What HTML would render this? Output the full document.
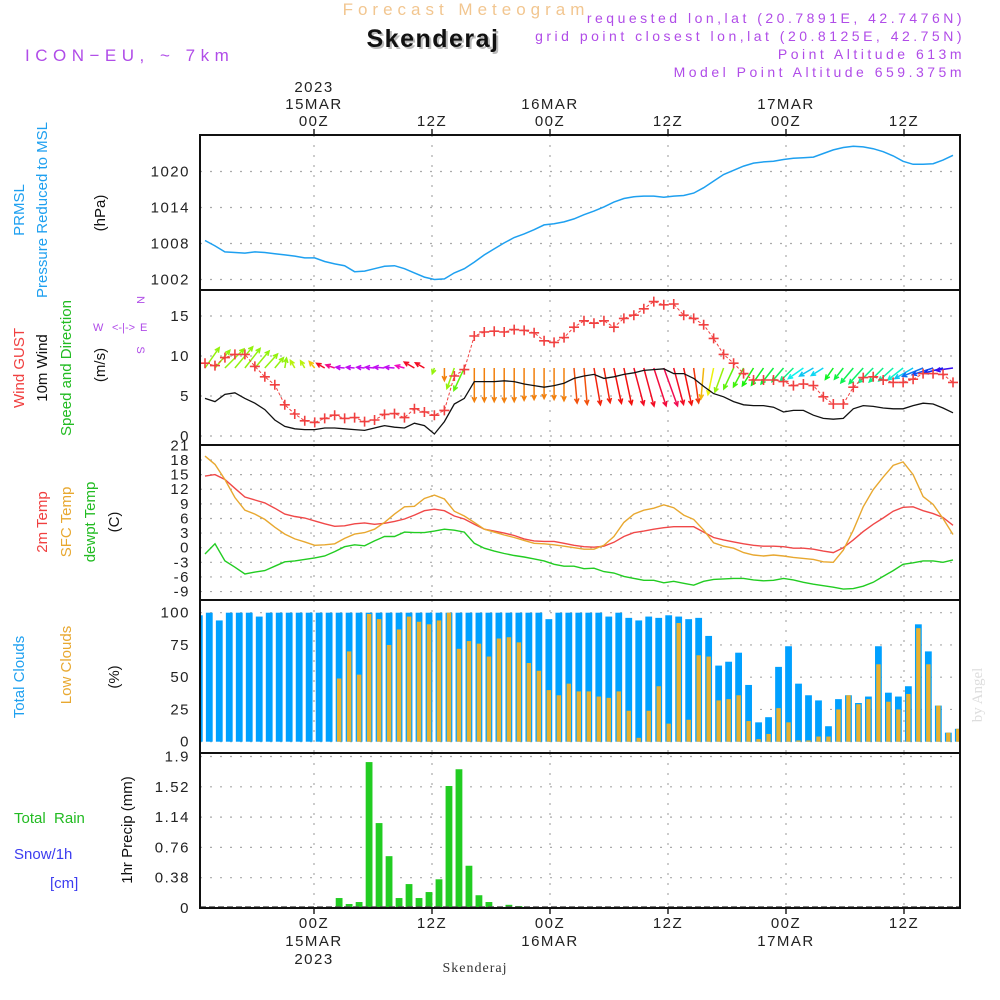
<!DOCTYPE html>
<html><head><meta charset="utf-8"><title>Meteogram Skenderaj</title>
<style>
html,body{margin:0;padding:0;background:#fff;}
svg{display:block;font-family:"Liberation Sans",sans-serif;}
.tk{font-size:15px;fill:#222;letter-spacing:1.5px;}
.hd{font-size:14px;fill:#b04ce8;letter-spacing:3.5px;}
</style></head>
<body>
<svg id="chart" width="1000" height="1000" viewBox="0 0 1000 1000">
  <text x="466" y="15" text-anchor="middle" font-size="17" fill="#f2c690" letter-spacing="5">Forecast Meteogram</text>
  <text x="435" y="49" text-anchor="middle" font-size="25" font-weight="bold" fill="#bbb" letter-spacing="1.5">Skenderaj</text>
  <text x="433" y="47" text-anchor="middle" font-size="25" font-weight="bold" fill="#111" letter-spacing="1.5">Skenderaj</text>
  <text x="25" y="61" font-size="17" fill="#b04ce8" letter-spacing="5.5">ICON−EU, ~ 7km</text>
  <text x="965" y="23" text-anchor="end" class="hd">requested lon,lat (20.7891E, 42.7476N)</text>
  <text x="965" y="41" text-anchor="end" class="hd">grid point closest lon,lat (20.8125E, 42.75N)</text>
  <text x="965" y="59" text-anchor="end" class="hd">Point Altitude 613m</text>
  <text x="965" y="77" text-anchor="end" class="hd">Model Point Altitude 659.375m</text>

  <text x="314" y="92" text-anchor="middle" class="tk">2023</text>

  <text transform="translate(24,210) rotate(-90)" text-anchor="middle" font-size="15" fill="#1ea0f0">PRMSL</text>
  <text transform="translate(47,210) rotate(-90)" text-anchor="middle" font-size="15" fill="#1ea0f0">Pressure Reduced to MSL</text>
  <text transform="translate(105,213) rotate(-90)" text-anchor="middle" font-size="15" fill="#111">(hPa)</text>

  <text transform="translate(24,368) rotate(-90)" text-anchor="middle" font-size="15" fill="#f04040">Wind GUST</text>
  <text transform="translate(47,368) rotate(-90)" text-anchor="middle" font-size="15" fill="#111">10m Wind</text>
  <text transform="translate(71,368) rotate(-90)" text-anchor="middle" font-size="15" fill="#22bb22">Speed and Direction</text>
  <text transform="translate(105,365) rotate(-90)" text-anchor="middle" font-size="15" fill="#111">(m/s)</text>
  <g fill="#b04ce8" font-size="11">
    <text transform="translate(137,300) rotate(90)" text-anchor="middle">N</text>
    <text transform="translate(137,350) rotate(90)" text-anchor="middle">S</text>
    <text x="93" y="331">W</text>
    <text x="112" y="331">&lt;-|-&gt;</text>
    <text x="140" y="331">E</text>
  </g>

  <text transform="translate(47,522) rotate(-90)" text-anchor="middle" font-size="15" fill="#f04040">2m Temp</text>
  <text transform="translate(71,522) rotate(-90)" text-anchor="middle" font-size="15" fill="#e8a830">SFC Temp</text>
  <text transform="translate(95,522) rotate(-90)" text-anchor="middle" font-size="15" fill="#22bb22">dewpt Temp</text>
  <text transform="translate(119,522) rotate(-90)" text-anchor="middle" font-size="15" fill="#111">(C)</text>

  <text transform="translate(24,677) rotate(-90)" text-anchor="middle" font-size="15" fill="#1ea0f0">Total Clouds</text>
  <text transform="translate(71,665) rotate(-90)" text-anchor="middle" font-size="15" fill="#e8a830">Low Clouds</text>
  <text transform="translate(119,677) rotate(-90)" text-anchor="middle" font-size="15" fill="#111">(%)</text>

  <text x="14" y="823" font-size="15" fill="#22bb22" xml:space="preserve">Total  Rain</text>
  <text x="14" y="859" font-size="15" fill="#3c3cf0">Snow/1h</text>
  <text x="50" y="888" font-size="15" fill="#3c3cf0">[cm]</text>
  <text transform="translate(132,830) rotate(-90)" text-anchor="middle" font-size="15" fill="#111">1hr Precip (mm)</text>

  <text x="475" y="972" text-anchor="middle" font-family="Liberation Serif, serif" font-size="14" fill="#333" letter-spacing="1">Skenderaj</text>
  <text x="314" y="964" text-anchor="middle" class="tk">2023</text>
  <text transform="translate(982,695) rotate(-90)" text-anchor="middle" font-family="Liberation Serif, serif" font-size="15" fill="#ddd">by Angel</text>
  <g id="plot"></g>
</svg>
<script>
// ---- data ----
const timeTicks = [0, 12, 24, 36, 48, 60];
const timeTickLabels = ["00Z", "12Z", "00Z", "12Z", "00Z", "12Z"];
const dateLabels = ["15MAR", "", "16MAR", "", "17MAR", ""];
const pressureTicks = [1002, 1008, 1014, 1020];
const windTicks = [0, 5, 10, 15];
const tempTicks = [-9, -6, -3, 0, 3, 6, 9, 12, 15, 18, 21];
const cloudTicks = [0, 25, 50, 75, 100];
const precipTicks = [0, 0.38, 0.76, 1.14, 1.52, 1.9];

const pressure = [1008.5,1007.6,1006.6,1006.5,1006.4,1006.6,1006.5,1006.3,1006.1,1005.9,1005.6,1005.6,1005.0,1004.6,1004.3,1003.3,1003.4,1003.8,1004.2,1004.3,1003.8,1003.1,1002.4,1002.0,1002.1,1003.1,1003.8,1004.9,1006.1,1007.1,1008.1,1009.0,1009.6,1010.3,1011.1,1011.3,1011.6,1012.1,1012.8,1013.4,1014.1,1014.9,1015.5,1015.8,1015.9,1015.9,1015.7,1015.9,1016.0,1016.4,1017.3,1018.4,1019.5,1020.2,1020.9,1021.4,1021.6,1021.7,1022.0,1022.2,1022.3,1022.4,1023.0,1023.6,1024.0,1024.2,1024.1,1023.8,1023.3,1022.6,1021.7,1021.2,1021.2,1021.3,1021.9,1022.7];
const windGust = [9.1,8.8,9.8,10.2,10.2,8.7,7.4,6.4,3.9,2.75,1.9,1.7,2.2,2.6,2.2,2.3,1.8,2.0,2.7,2.8,2.3,3.4,3.0,2.6,3.2,7.5,8.3,12.5,13.0,13.1,13.0,13.3,13.2,12.9,11.9,11.7,12.3,13.6,14.4,14.1,14.4,13.6,14.7,15.1,15.9,16.8,16.4,16.5,15.1,14.7,13.9,12.2,10.2,9.1,7.8,7.0,7.0,7.0,6.8,6.3,6.5,6.3,4.9,4.0,4.0,6.1,7.3,7.4,7.0,6.7,6.7,7.1,7.8,7.8,7.7,6.7];
const windSpeed = [4.7,4.3,5.2,5.4,4.7,4.1,3.3,2.0,1.2,0.9,0.8,0.8,1.0,1.0,0.9,0.8,0.7,1.0,1.3,1.1,1.0,1.6,1.3,0.25,1.8,4.0,4.7,6.8,6.8,6.8,6.9,6.8,6.5,6.3,6.1,6.3,6.6,7.2,7.5,7.7,7.2,7.4,7.7,7.9,8.2,8.3,8.4,7.8,7.8,7.2,6.2,5.3,4.9,4.3,3.9,3.8,3.8,3.6,3.0,3.2,3.2,2.6,2.2,2.1,2.2,3.4,3.8,3.7,3.5,3.4,3.4,3.8,4.1,4.0,3.5,2.9];
const windDir = [35,40,45,40,38,40,42,40,10,330,330,320,300,290,275,275,275,275,275,275,285,300,300,200,180,200,205,180,180,180,180,180,180,180,180,180,180,175,175,170,170,168,168,165,165,162,160,165,168,172,185,192,200,205,208,212,215,218,220,225,235,240,238,215,218,220,222,225,225,228,232,240,248,252,255,262];
const temp2m = [14.7,15.0,14.0,12.2,10.4,9.8,9.2,8.1,6.9,6.4,6.1,5.5,4.9,4.4,4.5,4.9,5.1,4.8,5.0,5.4,5.9,6.7,7.6,7.9,7.6,6.5,5.9,4.8,3.8,3.4,3.0,2.5,1.8,1.4,1.3,1.3,0.9,0.5,0.2,0.1,0.3,1.1,2.3,3.1,3.4,3.8,4.1,4.3,4.3,4.3,3.2,2.1,1.6,1.2,0.8,0.5,0.3,0.3,0.2,-0.1,-0.1,-0.3,-0.7,-1.0,0.0,1.6,3.3,4.8,6.1,7.5,8.3,8.4,7.6,7.0,6.2,4.6];
const tempSfc = [18.8,17.1,14.0,10.3,7.7,6.9,5.8,4.2,2.8,1.8,1.2,0.5,0.6,0.8,1.9,2.8,3.1,3.8,5.2,6.9,8.4,8.5,10.1,10.8,10.0,7.5,6.5,5.2,3.8,3.2,2.6,2.1,1.5,0.9,0.8,0.6,0.3,0.0,-0.3,-0.3,0.5,2.3,5.2,6.9,7.7,8.1,8.8,8.2,6.7,5.8,3.6,1.0,0.3,-0.1,-1.0,-1.5,-1.7,-1.5,-1.7,-2.0,-2.2,-2.4,-2.9,-3.0,-0.5,3.6,8.4,11.9,14.5,16.9,17.6,15.0,10.5,8.9,6.0,2.7];
const tempDew = [-1.3,0.8,-2.7,-4.0,-5.4,-5.0,-4.7,-3.8,-2.9,-2.7,-2.4,-2.1,-1.7,-0.8,0.2,0.6,0.4,1.4,2.3,2.3,3.2,3.1,3.1,3.4,3.8,3.6,3.2,0.9,-0.1,-0.7,-1.2,-1.6,-1.9,-2.3,-2.7,-3.4,-3.8,-3.8,-4.3,-4.2,-4.9,-5.2,-5.9,-6.3,-6.7,-6.7,-7.2,-6.9,-7.3,-7.7,-6.9,-6.5,-6.4,-6.3,-6.3,-6.6,-6.8,-6.7,-6.3,-6.6,-7.1,-7.5,-7.8,-8.1,-8.5,-8.4,-7.9,-7.1,-5.9,-4.7,-3.4,-3.1,-2.7,-2.7,-3.0,-2.5];
const totalClouds = [98,100,94,100,100,100,97,100,100,100,100,100,100,100,100,100,100,100,100,100,100,100,100,100,100,100,100,100,100,100,100,100,100,100,100,95,100,100,100,
  100,100,97,100,96,94,97,96,98,97,95,96,82,59,62,69,44,15,19,58,74,45,36,32,12,33,36,30,35,74,38,35,43,91,70,28,7,10];
const lowClouds = [0,0,0,0,0,0,0,0,0,0,0,0,0,0,49,70,52,99,95,75,87,97,93,91,94,100,72,78,76,66,80,81,77,61,55,40,36,45,39,
  39,35,34,39,24,3,24,43,14,92,17,67,66,32,33,36,16,2,6,26,15,1,1,4,4,25,36,29,33,60,31,25,37,88,60,28,7,10];
const precip = [0,0,0,0,0,0,0,0,0,0,0,0,0,0,0.125,0.05,0.075,1.83,1.065,0.65,0.125,0.30,0.125,0.20,0.36,1.53,1.74,0.53,0.16,0.075,0.012,0.04,0.025,0.012,0,0,0,0,0,0,0,0,0,0,0,0,0,0,0,0,0,0,0,0,0,0,0,0,0,0,0,0,0,0,0,0,0,0,0,0,0,0,0,0,0,0,0];

// ---- layout & scales ----
const NS = "http://www.w3.org/2000/svg";
const X0 = 200, X1 = 960;
const panels = [
  {name:"pressure", top:135, bot:290},
  {name:"wind", top:290, bot:445},
  {name:"temperature", top:445, bot:600},
  {name:"clouds", top:600, bot:753},
  {name:"precip", top:753, bot:908}
];
function lin(d0, d1, r0, r1){ return v => r0 + (v - d0) * (r1 - r0) / (d1 - d0); }
const xTime = lin(0, 12, 314, 432);
const xLine = i => 205 + i * (748 / 75);
const xBar = k => 199.3 + k * 9.987;
const yP = lin(1002, 1020, 279.5, 171.5);
const yW = lin(0, 15, 436, 316);
const yT = lin(0, 18, 547.7, 460);
const yC = lin(0, 100, 741.7, 612.7);
const yR = lin(0, 1.9, 908, 756.5);
const plot = document.getElementById("plot");

function mk(tag, attrs, parent){
  const e = document.createElementNS(NS, tag);
  for (const k in attrs) e.setAttribute(k, attrs[k]);
  (parent || plot).appendChild(e);
  return e;
}
const defs = mk("defs", {});
const cp = mk("clipPath", {id:"plotclip"}, defs);
mk("rect", {x:X0, y:135, width:X1 - X0, height:773}, cp);

const grid = mk("g", {stroke:"#aaa", "stroke-width":"1.2", "stroke-dasharray":"2 8", fill:"none"});


panels.forEach(p => {
  timeTicks.forEach(t => {
    const l = mk("line", {x1:xTime(t), x2:xTime(t), y1:p.top, y2:p.bot}, grid);
    
    
  });
});
function hgrid(ticks, ys, fmt, pname){
  ticks.forEach(v => {
    const y = ys(v);
    const l = mk("line", {x1:X0, x2:X1, y1:y, y2:y}, grid);
    
    
    const t = mk("text", {x:190, y:y + 5, "text-anchor":"end", class:"tk"});
    t.textContent = fmt(v);
    
    
  });
}
hgrid(pressureTicks, yP, v => String(v), "pressure");
hgrid(windTicks, yW, v => String(v), "wind");
hgrid(tempTicks, yT, v => String(v), "temperature");
hgrid(cloudTicks, yC, v => String(v), "clouds");
hgrid(precipTicks, yR, v => String(v), "precip");

timeTicks.forEach((t, i) => {
  const x = xTime(t);
  const a = mk("text", {x:x, y:126, "text-anchor":"middle", class:"tk"});
  a.textContent = timeTickLabels[i];
  
  
  if (dateLabels[i]) {
    const d = mk("text", {x:x, y:109, "text-anchor":"middle", class:"tk"});
    d.textContent = dateLabels[i];
    
    
    const d2 = mk("text", {x:x, y:946, "text-anchor":"middle", class:"tk"});
    d2.textContent = dateLabels[i];
    
    
  }
  const b = mk("text", {x:x, y:928, "text-anchor":"middle", class:"tk"});
  b.textContent = timeTickLabels[i];
  
  
  mk("line", {x1:x, x2:x, y1:129, y2:135, stroke:"#222", "stroke-width":1.5});
  mk("line", {x1:x, x2:x, y1:908, y2:914, stroke:"#222", "stroke-width":1.5});
});

const g = mk("g", {"clip-path":"url(#plotclip)"});

function path(vals, xs, ys){ return vals.map((v, i) => (i ? "L" : "M") + xs(i).toFixed(1) + " " + ys(v).toFixed(1)).join(""); }
const pl = mk("path", {d:path(pressure, xLine, yP), fill:"none", stroke:"#1ea0f0", "stroke-width":1.5}, g);



function dirColor(d){
  let h;
  if (d <= 120) h = 85;
  else if (d < 180) h = 30 - (180 - d) * 2.4;
  else h = 30 + (d - 180) * 2.7;
  if (h < 0) h += 360;
  return "hsl(" + h.toFixed(0) + ",90%,50%)";
}
const arrows = mk("g", {fill:"none", "stroke-width":1.5}, g);


windDir.forEach((d, i) => {
  const L = 5 + windSpeed[i] * 4.2;
  const r = d * Math.PI / 180;
  const x0 = xLine(i), y0 = 368;
  const x1 = x0 + Math.sin(r) * L, y1 = y0 - Math.cos(r) * L;
  const c = dirColor(d);
  const a1 = r + Math.PI - 0.45, a2 = r + Math.PI + 0.45;
  const ar = mk("path", {d:"M" + x0.toFixed(1) + " " + y0 + "L" + x1.toFixed(1) + " " + y1.toFixed(1) +
    "M" + (x1 + Math.sin(a1) * 5).toFixed(1) + " " + (y1 - Math.cos(a1) * 5).toFixed(1) + "L" + x1.toFixed(1) + " " + y1.toFixed(1) +
    "L" + (x1 + Math.sin(a2) * 5).toFixed(1) + " " + (y1 - Math.cos(a2) * 5).toFixed(1), stroke:c}, arrows);
  
  
});
const ws = mk("path", {d:path(windSpeed, xLine, yW), fill:"none", stroke:"#111", "stroke-width":1.3}, g);


const gl = mk("path", {d:path(windGust, xLine, yW), fill:"none", stroke:"#f04040", "stroke-width":1, "stroke-dasharray":"3 2"}, g);


windGust.forEach((v, i) => {
  const x = xLine(i), y = yW(v);
  const m = mk("path", {d:"M" + (x - 5) + " " + y + "h10M" + x + " " + (y - 5) + "v10", stroke:"#f04040", "stroke-width":1.6}, g);
  
  
});

[[temp2m, "#f04848", "temp-2m-line"], [tempSfc, "#e8a830", "sfc-temp-line"], [tempDew, "#22cc22", "dewpt-temp-line"]].forEach(s => {
  const p = mk("path", {d:path(s[0], xLine, yT), fill:"none", stroke:s[1], "stroke-width":1.4}, g);
  
  
});

totalClouds.forEach((v, k) => {
  const x = xBar(k);
  const r = mk("rect", {x:x - 3.4, y:yC(v), width:6.8, height:yC(0) - yC(v), fill:"#00a0ff"}, g);
  
  
  const lv = lowClouds[k];
  if (lv > 0) {
    const r2 = mk("rect", {x:x - 2.2, y:yC(lv), width:4.4, height:yC(0) - yC(lv), fill:"#e8b030"}, g);
    
    
  }
});

precip.forEach((v, k) => {
  if (v <= 0) return;
  const x = xBar(k);
  const r = mk("rect", {x:x - 3.4, y:yR(v), width:6.8, height:yR(0) - yR(v), fill:"#22cc22"}, g);
  
  
});
mk("line", {x1:X0, x2:X1, y1:907, y2:907, stroke:"#555", "stroke-width":1.5, "stroke-dasharray":"6 3"});

panels.forEach(p => {
  const f = mk("rect", {x:X0, y:p.top, width:X1 - X0, height:p.bot - p.top, fill:"none", stroke:"#111", "stroke-width":2});
  
  
});
</script>
</body></html>
